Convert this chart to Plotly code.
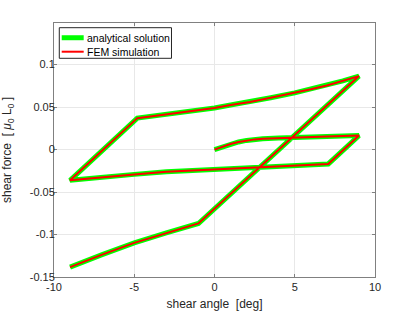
import plotly.graph_objects as go

# Load path: shear angle [deg] and shear force [mu_0 L_0]
shear_angle = [0, 0.5, 1, 1.5, 2, 2.5, 3, 4, 5, 6, 7, 8, 9,
               7.09,
               5, 3, 1, -1, -3, -5, -7, -9,
               -4.81,
               -3, -1, 0, 1, 2.2, 3.5, 5, 6, 7, 8, 9,
               -1.0,
               -3, -5, -7, -9]
shear_force = [0, 0.0035, 0.0066, 0.0090, 0.0108, 0.0120, 0.0128, 0.0137, 0.0143, 0.0149, 0.0155, 0.0160, 0.0165,
               -0.0169,
               -0.0187, -0.0206, -0.0220, -0.0238, -0.0262, -0.0292, -0.0325, -0.0362,
               0.0370,
               0.0413, 0.0465, 0.0490, 0.0525, 0.0560, 0.0610, 0.0667, 0.0710, 0.0755, 0.0808, 0.0865,
               -0.0870,
               -0.0981, -0.1098, -0.1236, -0.1383]

analytical_x = list(shear_angle)
analytical_y = list(shear_force)
fem_x = list(shear_angle)
fem_y = list(shear_force)

series_names = ["analytical solution", "FEM simulation"]
series_colors = ["#00ff00", "#ff0000"]
series_widths = [5, 2]

x_ticks = [-10, -5, 0, 5, 10]
x_tick_labels = ["-10", "-5", "0", "5", "10"]
y_ticks = [-0.15, -0.1, -0.05, 0, 0.05, 0.1]
y_tick_labels = ["-0.15", "-0.1", "-0.05", "0", "0.05", "0.1"]

font_family = "Liberation Sans, Arial, sans-serif"
tick_color = "#262626"

fig = go.Figure()
for xs, ys, name, color, width in zip([analytical_x, fem_x], [analytical_y, fem_y],
                                      series_names, series_colors, series_widths):
    fig.add_trace(go.Scatter(x=xs, y=ys, mode="lines", name=name,
                             line=dict(color=color, width=width), showlegend=False))

axis_common = dict(
    showgrid=True, gridcolor="#e8e8e8", gridwidth=1,
    showline=True, linecolor="#808080", linewidth=1, mirror="ticks",
    ticks="inside", ticklen=3, tickcolor="#808080",
    zeroline=False, automargin=False,
    tickfont=dict(family=font_family, size=11, color=tick_color),
)

fig.update_xaxes(range=[-10, 10], tickvals=x_ticks, ticktext=x_tick_labels,
                 title=dict(text="shear angle\u00a0\u00a0[deg]",
                            font=dict(family=font_family, size=12, color=tick_color)),
                 **axis_common)
fig.update_yaxes(range=[-0.15, 0.149], tickvals=y_ticks, ticktext=y_tick_labels,
                 ticklabelstandoff=-4,
                 title=dict(text="shear force\u00a0\u00a0[\u00a0<i>μ</i><sub>0</sub>\u00a0L<sub>0</sub>\u00a0]",
                            font=dict(family=font_family, size=12, color=tick_color)),
                 **axis_common)

# Compact MATLAB-style legend drawn in paper coordinates
legend_box = dict(x0=0.0165, x1=0.366, y0=0.861, y1=0.9815)
legend_rows_y = [0.942, 0.887]
fig.add_shape(type="rect", xref="paper", yref="paper", **legend_box,
              line=dict(color="#262626", width=1), fillcolor="white", layer="above")
for ry, name, color, width in zip(legend_rows_y, series_names, series_colors, series_widths):
    fig.add_shape(type="line", xref="paper", yref="paper", x0=0.024, x1=0.0925, y0=ry, y1=ry,
                  line=dict(color=color, width=width), layer="above")
    fig.add_annotation(xref="paper", yref="paper", x=0.097, y=ry, text=name,
                       showarrow=False, xanchor="left", yanchor="middle",
                       font=dict(family=font_family, size=10.5, color="#000000"))

fig.update_layout(
    width=415, height=311,
    margin=dict(l=54, r=40, t=23, b=34, autoexpand=False),
    paper_bgcolor="white", plot_bgcolor="white",
    font=dict(family=font_family, size=11, color=tick_color),
    showlegend=False,
)

fig.write_html("out.html", config={"displayModeBar": False},
               post_script="document.body.style.margin='0';document.body.style.overflow='hidden';")
